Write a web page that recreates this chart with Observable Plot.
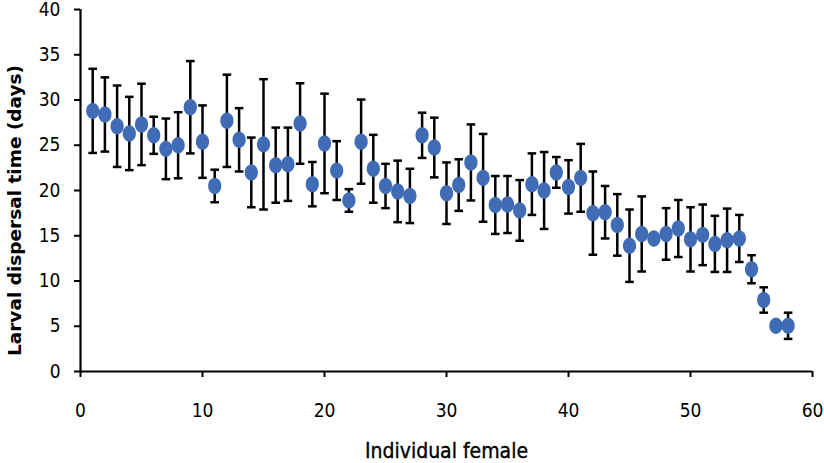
<!DOCTYPE html>
<html>
<head>
<meta charset="utf-8">
<script src="https://cdn.jsdelivr.net/npm/d3@7"></script>
<script src="https://cdn.jsdelivr.net/npm/@observablehq/plot@0.6"></script>
<style>
  html, body { margin: 0; padding: 0; background: #fff; }
</style>
</head>
<body>
<div id="chart"></div>
<script>
const female = [1,2,3,4,5,6,7,8,9,10,11,12,13,14,15,16,17,18,19,20,21,22,23,24,25,26,27,28,29,30,
  31,32,33,34,35,36,37,38,39,40,41,42,43,44,45,46,47,48,49,50,51,52,53,54,55,56,57,58];
const meanDays = [28.8,28.4,27.1,26.3,27.3,26.1,24.6,25.0,29.2,25.4,20.5,27.7,25.6,22.0,25.1,22.8,22.9,27.4,20.7,25.2,
  22.2,18.9,25.4,22.4,20.5,19.9,19.4,26.1,24.75,19.7,20.6,23.1,21.4,18.4,18.45,17.8,20.7,20.0,22.0,20.4,
  21.4,17.5,17.6,16.2,13.9,15.2,14.7,15.2,15.8,14.6,15.1,14.1,14.5,14.7,11.3,7.9,5.05,5.05];
const errDays = [4.65,4.1,4.5,4.05,4.5,2.05,3.35,3.65,5.1,4.0,1.8,5.1,3.5,3.85,7.2,4.15,4.05,4.45,2.45,5.5,
  3.25,1.25,4.65,3.75,2.45,3.4,3.0,2.5,3.3,3.4,2.85,4.2,4.85,3.2,3.15,3.35,3.4,4.25,1.7,2.95,
  3.75,4.6,2.9,3.4,4.0,4.15,0,2.85,3.15,3.55,3.35,3.1,3.5,2.6,1.55,1.4,0,1.45];
const xTicks = [0,10,20,30,40,50,60];
const yTicks = [0,5,10,15,20,25,30,35,40];
const xTitle = "Individual female";
const yTitle = "Larval dispersal time (days)";

const data = female.map((f, i) => ({female: f, mean: meanDays[i], err: errDays[i]}));
const withErr = data.filter(d => d.err > 0);

// ellipse marker (Excel-style stretched circle)
const ellipse = {
  draw(context, size) {
    const rx = 6.6, ry = 8.2, k = 0.5523;
    context.moveTo(rx, 0);
    context.bezierCurveTo(rx, ry * k, rx * k, ry, 0, ry);
    context.bezierCurveTo(-rx * k, ry, -rx, ry * k, -rx, 0);
    context.bezierCurveTo(-rx, -ry * k, -rx * k, -ry, 0, -ry);
    context.bezierCurveTo(rx * k, -ry, rx, -ry * k, rx, 0);
    context.closePath();
  }
};
// error-bar cap
const cap = {
  draw(context, size) {
    context.moveTo(-4.3, 0);
    context.lineTo(4.3, 0);
  }
};

const font = "'DejaVu Sans Condensed', 'Liberation Sans', sans-serif";

const chart = Plot.plot({
  width: 824,
  height: 463,
  marginLeft: 80,
  marginRight: 12,
  marginTop: 9,
  marginBottom: 92,
  style: {fontFamily: font, fontSize: "19px", color: "#000", background: "#fff", overflow: "visible"},
  x: {domain: [0, 60]},
  y: {domain: [0, 40]},
  marks: [
    Plot.axisX({ticks: xTicks, tickSize: 6, tickPadding: 26, fontSize: 19, strokeWidth: 2, label: null}),
    Plot.axisY({ticks: yTicks, tickSize: 6, tickPadding: 14, fontSize: 19, strokeWidth: 2, label: null}),
    Plot.ruleY([0], {stroke: "#000", strokeWidth: 2.2}),
    Plot.ruleX([0], {stroke: "#000", strokeWidth: 2.2}),
    Plot.ruleX(withErr, {x: "female", y1: d => d.mean - d.err, y2: d => d.mean + d.err, stroke: "#000", strokeWidth: 2.5}),
    Plot.dot(withErr, {x: "female", y: d => d.mean + d.err, symbol: cap, stroke: "#000", strokeWidth: 2.5, fill: "none"}),
    Plot.dot(withErr, {x: "female", y: d => d.mean - d.err, symbol: cap, stroke: "#000", strokeWidth: 2.5, fill: "none"}),
    Plot.dot(data, {x: "female", y: "mean", symbol: ellipse, fill: "#3F6CB4", stroke: "none"}),
    Plot.text([xTitle], {frameAnchor: "bottom", dy: 86, fontSize: 21, fontFamily: font, fill: "#000", stroke: "#000", strokeWidth: 0.35}),
    Plot.text([yTitle], {frameAnchor: "left", textAnchor: "middle", dx: -65, dy: 20, rotate: -90, fontSize: 18.5, fontWeight: "bold", fontFamily: "'DejaVu Sans', sans-serif", fill: "#000"})
  ]
});
document.getElementById("chart").appendChild(chart);
</script>
</body>
</html>
